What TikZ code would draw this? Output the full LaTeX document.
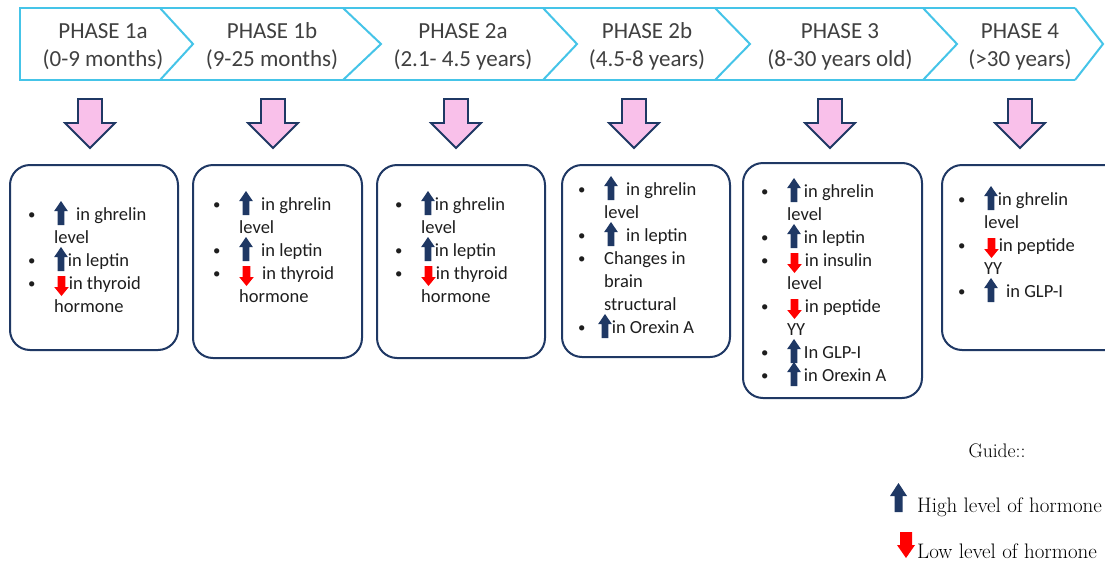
\documentclass[tikz,border=0pt]{standalone}
\usepackage{fontspec}
\newfontfamily\carl{Carlito}
\definecolor{chev}{HTML}{45C4E8}
\definecolor{navy}{HTML}{1F3864}
\definecolor{pinkf}{HTML}{F9C0EA}
\definecolor{redA}{HTML}{FF0000}
\definecolor{headtxt}{HTML}{404040}
\definecolor{boxtxt}{HTML}{1E1E1E}
\newcommand{\UpA}{\smash{\tikz[baseline=0pt]\fill[navy] (-3.3pt,-5pt) -- (3.3pt,-5pt) -- (3.3pt,9pt) -- (6.8pt,9pt) -- (0pt,19pt) -- (-6.8pt,9pt) -- (-3.3pt,9pt) -- cycle;}}
\newcommand{\DnA}{\smash{\tikz[baseline=0pt]\fill[redA] (-3.8pt,13pt) -- (3.8pt,13pt) -- (3.8pt,2pt) -- (7.3pt,2pt) -- (0pt,-7pt) -- (-7.3pt,2pt) -- (-3.8pt,2pt) -- cycle;}}
\newcommand{\Bul}{\raisebox{1pt}{\scalebox{0.8}{\textbullet}}}
\begin{document}
\begin{tikzpicture}[x=1pt,y=-1pt,
  chevron/.style={draw=chev, line width=2pt, line join=miter},
  head/.style={anchor=base, inner sep=0pt, text=headtxt, font=\carl\fontsize{23}{28}\selectfont},
  hbox/.style={draw=navy, line width=2pt, rounded corners=20pt},
  btxt/.style={anchor=base west, inner sep=0pt, text=boxtxt, font=\carl\fontsize{18.5}{23}\selectfont},
  pinkarrow/.style={fill=pinkf, draw=navy, line width=1.8pt, line join=miter},
  legend/.style={anchor=base west, inner sep=0pt, font=\fontsize{21}{24}\selectfont}]
\useasboundingbox (0,0) rectangle (1105,565);
\fill[white] (0,0) rectangle (1105,565);

% header chevrons
\draw[chevron] (1075,8) -- (20,8) -- (20,80) -- (1075,80);
\foreach \a/\b in {160/193,343/381,543/577,715/750,923/957,1075/1103}
  \draw[chevron] (\a,8) -- (\b,44) -- (\a,80);

\node[head] (h1) at (103,38) {\begin{tabular}[t]{@{}c@{}}PHASE 1a\\(0-9 months)\end{tabular}};
\node[head] (h2) at (272,38) {\begin{tabular}[t]{@{}c@{}}PHASE 1b\\(9-25 months)\end{tabular}};
\node[head] (h3) at (463,38) {\begin{tabular}[t]{@{}c@{}}PHASE 2a\\(2.1- 4.5 years)\end{tabular}};
\node[head] (h4) at (647,38) {\begin{tabular}[t]{@{}c@{}}PHASE 2b\\(4.5-8 years)\end{tabular}};
\node[head] (h5) at (840,38) {\begin{tabular}[t]{@{}c@{}}PHASE 3\\(8-30 years old)\end{tabular}};
\node[head] (h6) at (1020,38) {\begin{tabular}[t]{@{}c@{}}PHASE 4\\(>30 years)\end{tabular}};

% pink block arrows
\foreach \c in {90,273,456,634,830,1020}
  \draw[pinkarrow] (\c-12,99) -- (\c+12,99) -- (\c+12,123) -- (\c+25,123) -- (\c,148) -- (\c-25,123) -- (\c-12,123) -- cycle;

% boxes
\draw[hbox] (10,165) rectangle (178,350);
\draw[hbox] (193,165) rectangle (362,358);
\draw[hbox] (377,165) rectangle (545,358);
\draw[hbox] (562,165) rectangle (730,357);
\draw[hbox] (743,163) rectangle (922,398);
\draw[hbox] (942,165) rectangle (1125,350);

\node[btxt] (t1) at (28,220) {\begin{tabular}[t]{@{}p{26pt}@{}l@{}}
\Bul & \UpA\ \ in ghrelin\\ & level\\ \Bul & \UpA in leptin\\ \Bul & \DnA in thyroid\\ & hormone\end{tabular}};
\node[btxt] (t2) at (213,210) {\begin{tabular}[t]{@{}p{26pt}@{}l@{}}
\Bul & \UpA\ \ in ghrelin\\ & level\\ \Bul & \UpA\ \ in leptin\\ \Bul & \DnA\ \ in thyroid\\ & hormone\end{tabular}};
\node[btxt] (t3) at (395,210) {\begin{tabular}[t]{@{}p{26pt}@{}l@{}}
\Bul & \UpA in ghrelin\\ & level\\ \Bul & \UpA in leptin\\ \Bul & \DnA in thyroid\\ & hormone\end{tabular}};
\node[btxt] (t4) at (578,195) {\begin{tabular}[t]{@{}p{26pt}@{}l@{}}
\Bul & \UpA\ \ in ghrelin\\ & level\\ \Bul & \UpA\ \ in leptin\\ \Bul & Changes in\\ & brain\\ & structural\\ \Bul & \hspace*{-6pt}\UpA in Orexin A\end{tabular}};
\node[btxt] (t5) at (761,197) {\begin{tabular}[t]{@{}p{26pt}@{}l@{}}
\Bul & \UpA\,in ghrelin\\ & level\\ \Bul & \UpA\,in leptin\\ \Bul & \DnA\,in insulin\\ & level\\ \Bul & \DnA\,in peptide\\ & YY\\ \Bul & \UpA\,In GLP-I\\ \Bul & \UpA\,in Orexin A\end{tabular}};
\node[btxt] (t6) at (958,205) {\begin{tabular}[t]{@{}p{26pt}@{}l@{}}
\Bul & \UpA in ghrelin\\ & level\\ \Bul & \DnA in peptide\\ & YY\\ \Bul & \UpA\ \ in GLP-I\end{tabular}};

% guide
\node[anchor=base, inner sep=0pt, font=\fontsize{19.6}{23}\selectfont] (g) at (997,457) {Guide::};
\fill[navy] (894.5,512) -- (902.5,512) -- (902.5,496) -- (907,496) -- (898.5,483) -- (890,496) -- (894.5,496) -- cycle;
\node[legend] (gh) at (917,512) {High level of hormone};
\fill[redA] (900,532) -- (912,532) -- (912,545) -- (915,545) -- (906,558) -- (897,545) -- (900,545) -- cycle;
\node[legend] (gl) at (917,558) {Low level of hormone};
\end{tikzpicture}
\end{document}
